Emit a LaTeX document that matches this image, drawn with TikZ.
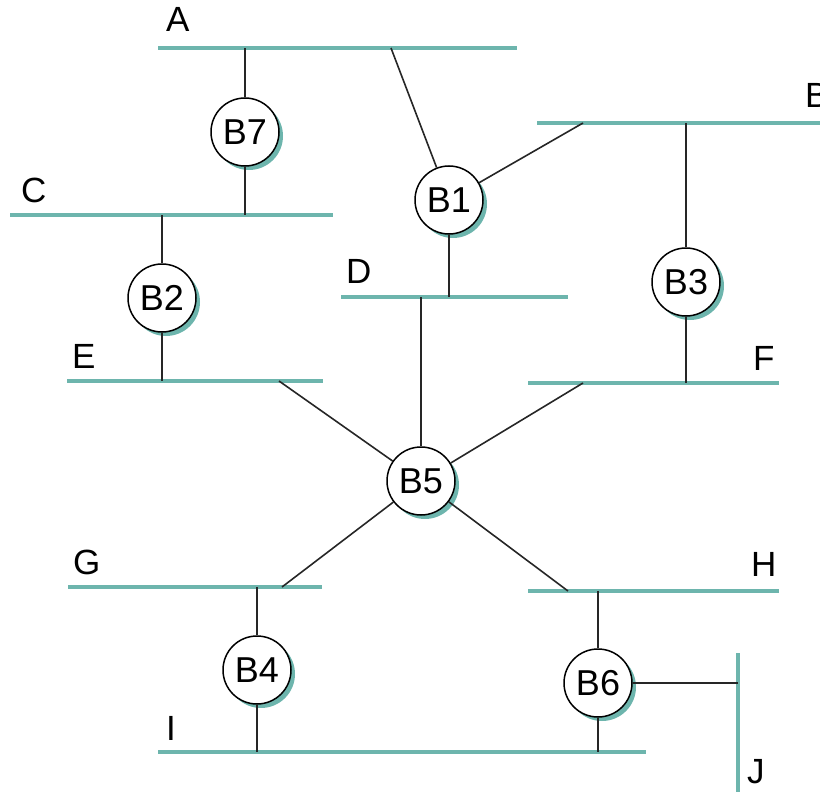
\documentclass[tikz,border=0pt]{standalone}
\usepackage{fontspec}
\setmainfont{Liberation Sans}
\usetikzlibrary{shadows}
\definecolor{lanc}{HTML}{6DB5AD}
\begin{document}
\begin{tikzpicture}[x=1pt,y=-1pt,
  lan/.style={draw=lanc,line width=4pt},
  link/.style={draw=black!85,line width=1.6pt},
  bridge/.style={circle,draw=black,line width=1.5pt,fill=white,minimum size=68pt,inner sep=0pt,
    font=\fontsize{36}{36}\selectfont,
    drop shadow={shadow xshift=4pt,shadow yshift=-4pt,fill=lanc,opacity=1}},
  lbl/.style={anchor=base west,inner sep=0pt,font=\fontsize{35}{35}\selectfont}]
\useasboundingbox (0,0) rectangle (820,792);
% LAN segments
\coordinate (A1) at (158,48);  \coordinate (A2) at (517,48);
\coordinate (B1s) at (537,123); \coordinate (B2s) at (822,123);
\coordinate (C1) at (10,215);  \coordinate (C2) at (333,215);
\coordinate (D1) at (341,297); \coordinate (D2) at (568,297);
\coordinate (E1) at (67,381);  \coordinate (E2) at (323,381);
\coordinate (F1) at (528,383); \coordinate (F2) at (779,383);
\coordinate (G1) at (68,587);  \coordinate (G2) at (322,587);
\coordinate (H1) at (528,591); \coordinate (H2) at (779,591);
\coordinate (I1) at (158,752); \coordinate (I2) at (646,752);
\coordinate (J1) at (738,653); \coordinate (J2) at (738,794);
\foreach \p in {A,C,D,E,F,G,H,I,J} {\draw[lan] (\p1) -- (\p2);}
\draw[lan] (B1s) -- (B2s);
% labels
\node[lbl] (lA) at (166,32) {A};
\node[lbl] (lB) at (805,107) {B};
\node[lbl] (lC) at (21,202) {C};
\node[lbl] (lD) at (346,283) {D};
\node[lbl] (lE) at (72,368) {E};
\node[lbl] (lF) at (753,370) {F};
\node[lbl] (lG) at (73,574) {G};
\node[lbl] (lH) at (751,576) {H};
\node[lbl] (lI) at (166,740) {I};
\node[lbl] (lJ) at (747,783) {J};
% bridges
\node[bridge] (b7) at (245,132) {B7};
\node[bridge] (b1) at (449,200) {B1};
\node[bridge] (b2) at (162,298) {B2};
\node[bridge] (b3) at (686,282) {B3};
\node[bridge] (b5) at (421,481) {B5};
\node[bridge] (b4) at (257,670) {B4};
\node[bridge] (b6) at (598,683) {B6};
% attachment points
\coordinate (a1) at (391,48);
\coordinate (bb1) at (583,123);
\coordinate (e5) at (279,381);
\coordinate (f5) at (583,383);
\coordinate (g5) at (282,587);
\coordinate (h5) at (568,591);
% connectors
\draw[link] (b7) -- (b7 |- A1);
\draw[link] (b7) -- (b7 |- C1);
\draw[link] (b1) -- (a1);
\draw[link] (b1) -- (bb1);
\draw[link] (b1) -- (b1 |- D1);
\draw[link] (b2) -- (b2 |- C1);
\draw[link] (b2) -- (b2 |- E1);
\draw[link] (b3) -- (b3 |- B1s);
\draw[link] (b3) -- (b3 |- F1);
\draw[link] (b5) -- (b5 |- D1);
\draw[link] (b5) -- (e5);
\draw[link] (b5) -- (f5);
\draw[link] (b5) -- (g5);
\draw[link] (b5) -- (h5);
\draw[link] (b4) -- (b4 |- G1);
\draw[link] (b4) -- (b4 |- I1);
\draw[link] (b6) -- (b6 |- H1);
\draw[link] (b6) -- (b6 |- I1);
\draw[link] (b6) -- (b6 -| J1);
\end{tikzpicture}
\end{document}
